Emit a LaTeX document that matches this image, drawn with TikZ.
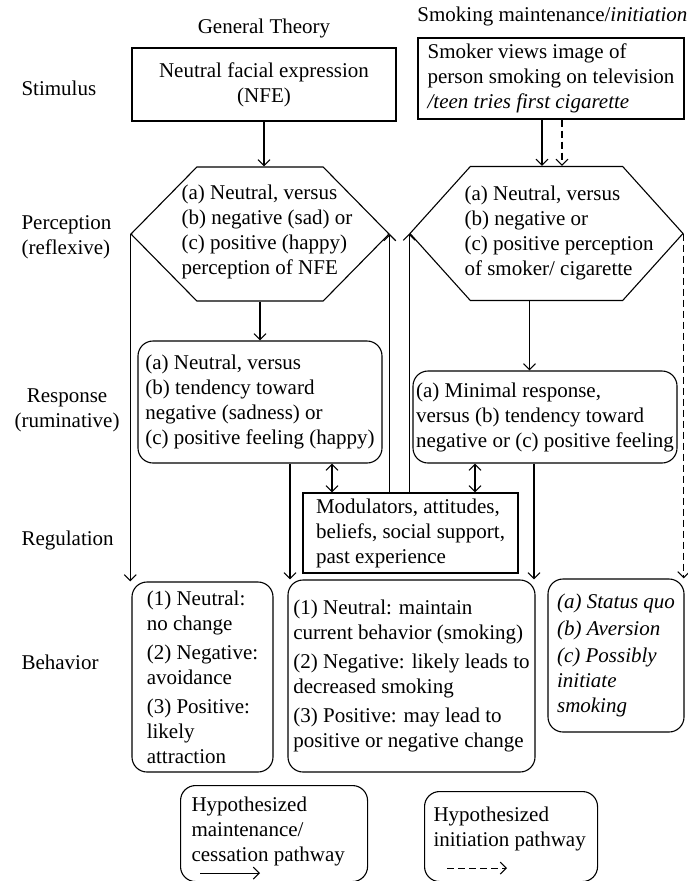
\documentclass[tikz,border=0pt]{standalone}
\usepackage{fontspec}
\setmainfont{Liberation Serif}
\usetikzlibrary{arrows.meta,shapes.symbols}

\begin{document}
\begin{tikzpicture}[x=1pt,y=-1pt,line width=1.1pt,
  every node/.style={font=\fontsize{21}{25}\selectfont,inner sep=0pt},
  box/.style={draw,align=left},
  rbox/.style={box,rounded corners=15pt},
  hexa/.style={draw,signal,signal to=west and east,minimum height=134},
  arr/.style={-{Straight Barb[length=6pt,width=12pt]}},
  darr/.style={arr,dash pattern=on 7pt off 4pt},
  both/.style={{Straight Barb[length=6pt,width=12pt]}-{Straight Barb[length=6pt,width=12pt]}}]
\useasboundingbox (0,0) rectangle (688,881);

% column titles
\node (gen) at (264,28) {General Theory};
\node[anchor=east] (smk) at (688,16) {Smoking maintenance/\textit{initiation}};

% row labels
\node[anchor=west] (stim) at (21,88) {Stimulus};
\node[anchor=west,align=left] (perc) at (21,237) {Perception\\(reflexive)};
\node[align=center] (resp) at (67,410) {Response\\(ruminative)};
\node[anchor=west] (reg) at (21,540) {Regulation};
\node[anchor=west] (beh) at (21,662) {Behavior};

% stimulus
\node[box,align=center,minimum width=264,minimum height=73] (lstim) at (264,84.5) {Neutral facial expression\\(NFE)};
\node[box,minimum width=266,minimum height=81] (rstim) at (551,78.5) {Smoker views image of\\person smoking on television\\\textit{/teen tries first cigarette}};

% perception
\node[hexa,minimum width=258,signal pointer angle=91] (lhex) at (260,234) {};
\node[anchor=west,align=left] (lhext) at (181,232) {(a) Neutral, versus\\(b) negative (sad) or\\(c) positive (happy)\\perception of NFE};
\node[hexa,minimum width=273,signal pointer angle=96] (rhex) at (546.5,233.5) {};
\node[anchor=west,align=left] (rhext) at (464,233) {(a) Neutral, versus\\(b) negative or\\(c) positive perception\\of smoker/ cigarette};

% response
\node[rbox,minimum width=244,minimum height=122] (lresp) at (260,402) {(a) Neutral, versus\\(b) tendency toward\\negative (sadness) or\\(c) positive feeling (happy)};
\node[rbox,minimum width=264,minimum height=92] (rresp) at (545,417) {(a) Minimal response,\\versus (b) tendency toward\\negative or (c) positive feeling};

% regulation
\node[box,minimum width=215,minimum height=80] (mod) at (410.5,533) {Modulators, attitudes,\\beliefs, social support,\\past experience};

% behavior
\node[rbox,minimum width=141,minimum height=190] (lbeh) at (202.5,677) {(1) Neutral:\\no change\\[4pt](2) Negative:\\avoidance\\[4pt](3) Positive:\\likely\\attraction};
\node[rbox,minimum width=247,minimum height=192] (cbeh) at (411.5,676) {(1) Neutral: maintain\\current behavior (smoking)\\[4pt](2) Negative: likely leads to\\decreased smoking\\[4pt](3) Positive: may lead to\\positive or negative change};
\node[rbox,minimum width=136,minimum height=153,font=\fontsize{21}{25}\selectfont\itshape] (rbeh) at (616,655.5) {(a) Status quo\\[2pt](b) Aversion\\[2pt](c) Possibly\\initiate\\smoking};

% legend
\node[rbox,minimum width=187,minimum height=96,anchor=north west] (legm) at (180,785) {};
\node[anchor=north west,align=left] (legmt) at (191,796) {Hypothesized\\maintenance/\\cessation pathway};
\node[rbox,minimum width=173,minimum height=90,anchor=north west] (legi) at (424,791) {};
\node[anchor=north west,align=left] (legit) at (433,806) {Hypothesized\\initiation pathway};
\draw[arr] ([shift={(20,-9)}]legm.south west) -- ++(60,0);
\draw[darr] ([shift={(23,-14)}]legi.south west) -- ++(60,0);

% pathways
\draw[arr] (lstim.south) -- (lstim.south |- lhex.north);
\draw[arr] ([xshift=-9]rstim.south) -- ([xshift=-9]rstim.south |- rhex.north);
\draw[darr] ([xshift=11]rstim.south) -- ([xshift=11]rstim.south |- rhex.north);
\draw[arr] (lhex.west) -- (lhex.west |- lbeh.north);
\draw[arr] (lhex.south) -- (lresp.north);
\draw[arr] ([xshift=30]lresp.south) -- ([xshift=30]lresp.south |- cbeh.north);
\draw[both] ([xshift=72]lresp.south) -- ([xshift=72]lresp.south |- mod.north);
\draw[arr] (lhex.east |- mod.north) -- (lhex.east);
\draw[arr] (rhex.west |- mod.north) -- (rhex.west);
\draw[arr] ([xshift=-17]rhex.south) -- ([xshift=-17]rhex.south |- rresp.north);
\draw[both] ([xshift=-70]rresp.south) -- ([xshift=-70]rresp.south |- mod.north);
\draw[arr] ([xshift=-11]rresp.south) -- ([xshift=-11]rresp.south |- cbeh.north);
\draw[darr] (rhex.east) -- (rhex.east |- rbeh.north);
\end{tikzpicture}
\end{document}
